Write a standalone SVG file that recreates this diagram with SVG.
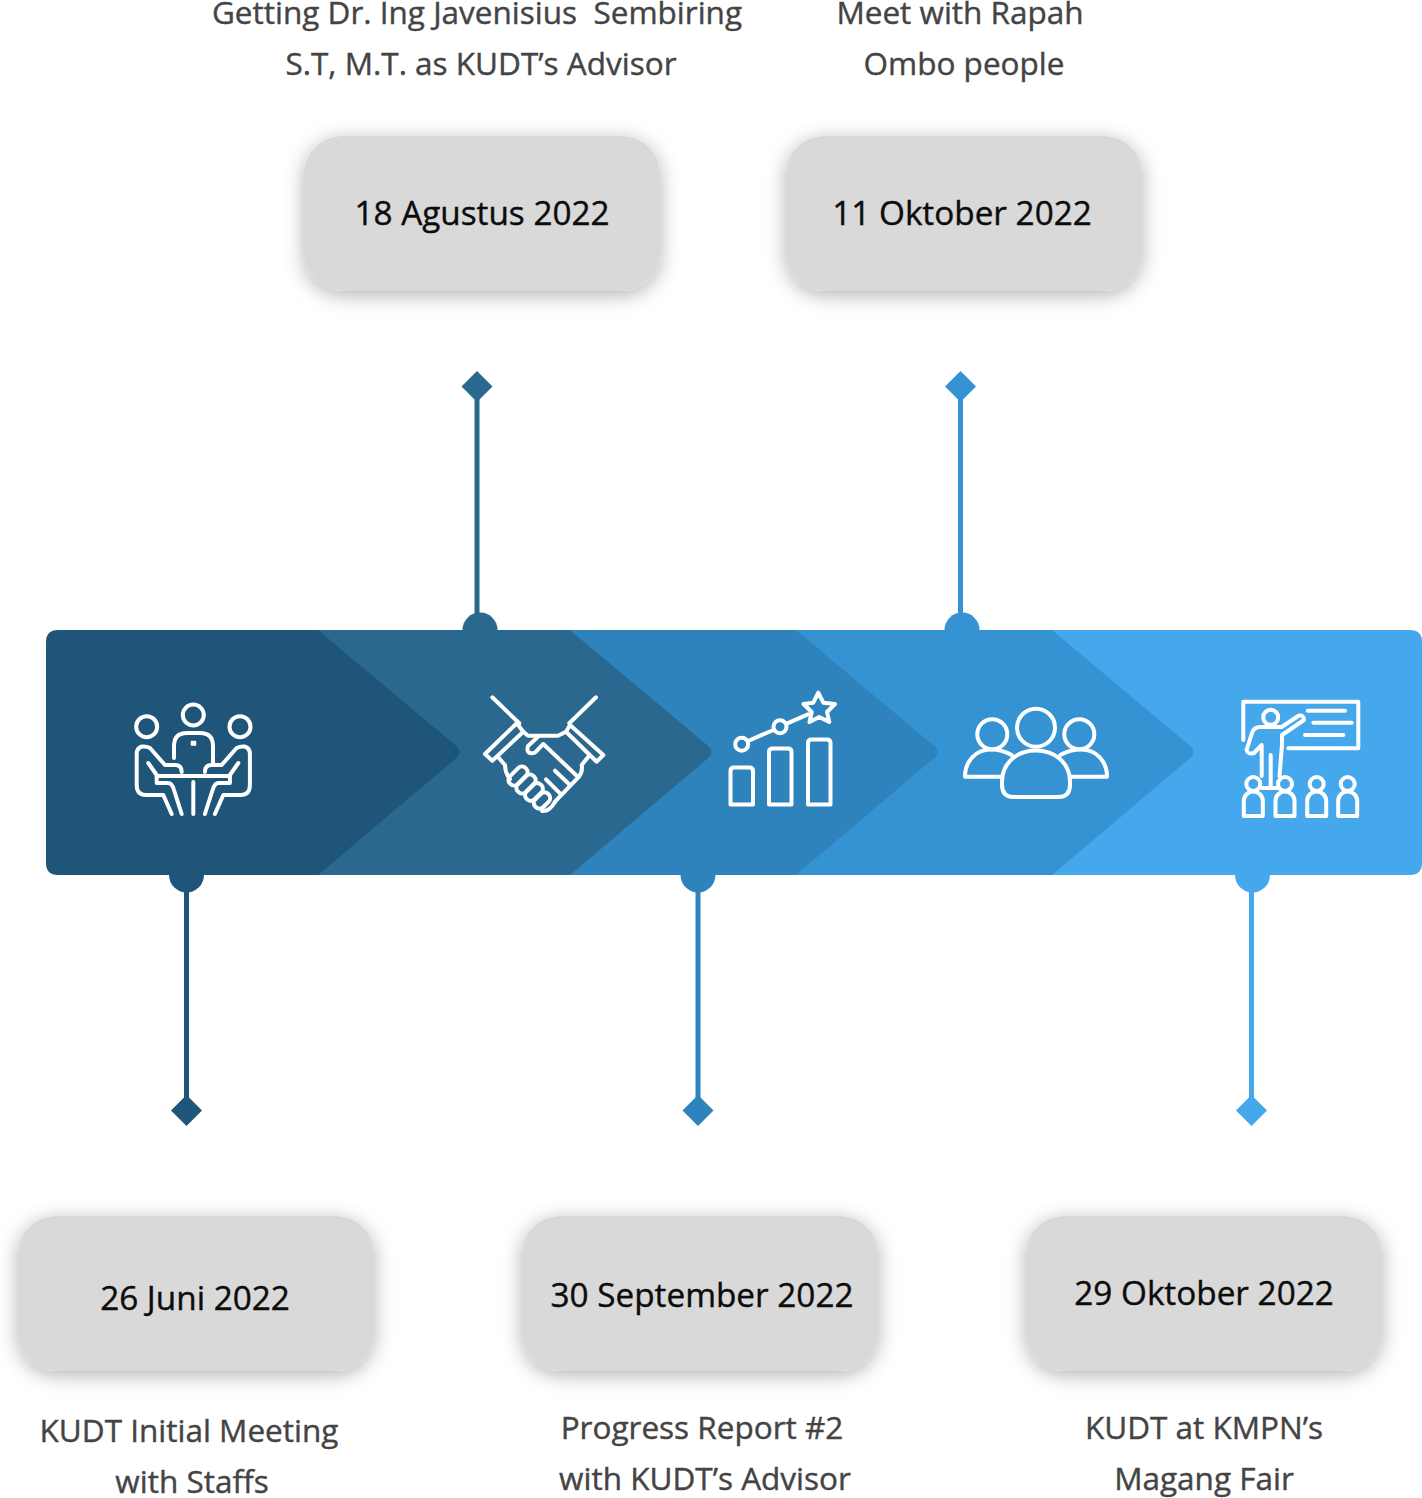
<svg xmlns="http://www.w3.org/2000/svg" xmlns:xlink="http://www.w3.org/1999/xlink" width="1422" height="1498" viewBox="0 0 1422 1498">
<style>
text{font-family:"Open Sans","Noto Sans",sans-serif;text-anchor:middle;white-space:pre}
.date{font-size:33.300px;fill:#0c0c0c;stroke:#0c0c0c;stroke-width:.4px}
.desc{font-size:31.500px;fill:#444;stroke:#444;stroke-width:.4px}
.box{fill:#d9d9d9;filter:url(#sh)}
.ic{fill:none;stroke:#fff;stroke-width:4;stroke-linecap:round;stroke-linejoin:round}
.c1{fill:#1e5579;stroke:#1e5579}.c2{fill:#2a688f;stroke:#2a688f}.c3{fill:#2f83bd;stroke:#2f83bd}.c4{fill:#3693d3;stroke:#3693d3}.c5{fill:#45a8ec;stroke:#45a8ec}
.ln{stroke-width:5;fill:none}
.nb{stroke:none}
</style>
<defs>
<filter id="sh" x="-15%" y="-25%" width="130%" height="155%"><feDropShadow dx="0" dy="4" stdDeviation="10" flood-color="#000" flood-opacity="0.3"/></filter>
<g id="stu"><circle cx="0" cy="784" r="7"/><path d="M-9.500 816V801a9.500 9.500 0 0 1 19 0V816Z"/></g>
<g id="pl"><path d="M181.700 772Q181.700 765 175 765H165L150 748Q146 746 142 746.500Q136.700 748 136.700 754V785Q136.700 795 146 795H163.300L171.700 814"/><path d="M148.300 763L156.700 775V783H168Q172 783 174 790L181.700 814"/></g>
</defs>

<g id="band">
<path class="c5 nb" d="M1040 630H1410Q1422 630 1422 642V863Q1422 875 1410 875H1040Z"/>
<path class="c4 nb" d="M790 630H1052L1189 745Q1198 752 1189 759L1052 875H790Z"/>
<path class="c3 nb" d="M560 630H796L933 745Q942 752 933 759L796 875H560Z"/>
<path class="c2 nb" d="M300 630H570L707 745Q716 752 707 759L570 875H300Z"/>
<path class="c1 nb" d="M58 630H318L455 745Q464 752 455 759L318 875H58Q46 875 46 863V642Q46 630 58 630Z"/>
</g>

<g id="connectors">
<path class="c2 nb" d="M462.500 630a17.500 17.500 0 0 1 35 0Z"/>
<path class="c4 nb" d="M944.500 630a17.500 17.500 0 0 1 35 0Z"/>
<path class="c1 nb" d="M169 875a17.500 17.500 0 0 0 35 0Z"/>
<path class="c3 nb" d="M680.500 875a17.500 17.500 0 0 0 35 0Z"/>
<path class="c5 nb" d="M1235 875a17.500 17.500 0 0 0 35 0Z"/>
<path class="c2 ln" d="M477 386V616"/>
<path class="c4 ln" d="M960.500 386V616"/>
<path class="c1 ln" d="M186.500 890V1110"/>
<path class="c3 ln" d="M698 890V1110"/>
<path class="c5 ln" d="M1251.500 890V1110"/>
<path class="c2 nb" d="M477 371L492.500 386.500L477 402L461.500 386.500Z"/>
<path class="c4 nb" d="M960.500 371L976 386.500L960.500 402L945 386.500Z"/>
<path class="c1 nb" d="M186.500 1095L202 1110.500L186.500 1126L171 1110.500Z"/>
<path class="c3 nb" d="M698 1095L713.500 1110.500L698 1126L682.500 1110.500Z"/>
<path class="c5 nb" d="M1251.500 1095L1267 1110.500L1251.500 1126L1236 1110.500Z"/>
</g>

<g id="icon-meeting" class="ic">
<circle cx="193.300" cy="715" r="10.500"/><circle cx="146.700" cy="726.700" r="10.500"/><circle cx="240" cy="726.700" r="10.500"/>
<path d="M174 758V746Q174 733 187 733H200Q213 733 213 746V765"/>
<path d="M191.500 741.500h4v3.500h-4z" stroke-width="1.500" fill="#fff"/>
<use xlink:href="#pl" href="#pl"/>
<use xlink:href="#pl" href="#pl" transform="translate(386.600 0) scale(-1 1)"/>
<path d="M156.700 776H230M193.300 782V814"/>
</g>

<g id="icon-handshake" class="ic">
<path d="M492.300 697.300L519.300 723.300M596 697.300L569.300 723.300"/>
<path d="M516.700 723.300L485 754L492.300 760.700L523.300 731.700Z"/>
<path d="M570 725L603.300 755L596.700 761.700L566 731.700Z"/>
<path d="M523.300 731.700L528 735.700H558L566 731.700"/>
<path d="M538 736.700L528 746Q526 753 531.700 753.300Q534 753.500 536 751.700L543.300 744L578.300 777.300"/>
<path d="M588.300 756.700L581.700 765Q583 772 578.300 777.300L555 801.700"/>
<path d="M546 779.300L560 793.300M555 770.700L570 785"/>
<path d="M498.300 757.300L505 765Q505 773 510 779"/>
<g transform="translate(518 776) rotate(-45)"><rect x="-11" y="-5.500" width="22" height="11" rx="5"/></g>
<g transform="translate(526 784) rotate(-45)"><rect x="-11" y="-5.500" width="22" height="11" rx="5"/></g>
<g transform="translate(534 792) rotate(-45)"><rect x="-10" y="-5.500" width="20" height="11" rx="5"/></g>
<g transform="translate(542 800.500) rotate(-45)"><rect x="-9" y="-5.500" width="18" height="11" rx="5"/></g>
<path d="M555 802Q549 812 542 811"/>
</g>

<g id="icon-chart" class="ic">
<path d="M730.500 804.500V771Q730.500 767.500 734 767.500H749.500Q753 767.500 753 771V804.500Z"/>
<path d="M769 804.500V752Q769 748.500 772.500 748.500H788Q791.500 748.500 791.500 752V804.500Z"/>
<path d="M808 804.500V743Q808 739.500 811.500 739.500H827Q830.500 739.500 830.500 743V804.500Z"/>
<circle cx="741.700" cy="744.300" r="6.500"/><circle cx="780" cy="726.700" r="6.500"/>
<path d="M748 741L773.300 730M787.300 723.300L808 714.300"/>
<path d="M818.300 692.700L823.300 702.700L835 704L827 712L829.300 722L819.300 717L809.500 722L811.700 712L803.500 704L813.300 702.700Z"/>
</g>

<g id="icon-team" class="ic">
<circle cx="1036" cy="727.700" r="19"/><circle cx="992.300" cy="734.300" r="15"/><circle cx="1079.300" cy="734.300" r="15"/>
<path d="M1002 782C1002 762 1018 750.500 1036 750.500C1054 750.500 1070 762 1070 782V785Q1070 797 1058 797H1014Q1002 797 1002 785Z"/>
<path d="M1011.700 755Q1002 749.500 991 749.500C975 749.500 965 762 965 776.700H1001"/>
<path d="M1060.300 755Q1070 749.500 1081 749.500C1097 749.500 1107 762 1107 776.700H1071"/>
</g>

<g id="icon-training" class="ic">
<path d="M1243.300 740V701.700H1358.300V748.300H1288.300"/>
<path d="M1307.700 710.700H1345M1313.300 722.700H1351.700M1305 735H1343.300"/>
<circle cx="1270.700" cy="717.300" r="7.500"/>
<path d="M1261.700 776V745L1254 753Q1248 755 1246.500 750L1252 733Q1254 727 1260 727H1281.700L1299 715.500Q1304 715 1304 720L1282 735V745L1279.500 776"/>
<path d="M1270.700 755V788"/><path d="M1262 788H1278"/>
<use xlink:href="#stu" href="#stu" x="1253.300"/><use xlink:href="#stu" href="#stu" x="1285"/><use xlink:href="#stu" href="#stu" x="1316.700"/><use xlink:href="#stu" href="#stu" x="1347.700"/>
</g>

<g id="node-jun"><rect class="box" x="18" y="1216" width="356" height="155" rx="38"/><text class="date" x="195" y="1310">26 Juni 2022</text><text class="desc" x="189" y="1442">KUDT Initial Meeting</text><text class="desc" x="192" y="1493">with Staffs</text></g>
<g id="node-agu"><rect class="box" x="304" y="136" width="356" height="155" rx="38"/><text class="date" x="482" y="225">18 Agustus 2022</text><text class="desc" x="477" y="24">Getting Dr. Ing Javenisius  Sembiring</text><text class="desc" x="481" y="75">S.T, M.T. as KUDT’s Advisor</text></g>
<g id="node-sep"><rect class="box" x="522" y="1216" width="356" height="155" rx="38"/><text class="date" x="702" y="1307">30 September 2022</text><text class="desc" x="702" y="1439">Progress Report #2</text><text class="desc" x="705" y="1490">with KUDT’s Advisor</text></g>
<g id="node-okt11"><rect class="box" x="786" y="136" width="356" height="155" rx="38"/><text class="date" x="962" y="225">11 Oktober 2022</text><text class="desc" x="960" y="24">Meet with Rapah</text><text class="desc" x="964" y="75">Ombo people</text></g>
<g id="node-okt29"><rect class="box" x="1026" y="1216" width="356" height="155" rx="38"/><text class="date" x="1204" y="1305">29 Oktober 2022</text><text class="desc" x="1204" y="1439">KUDT at KMPN’s</text><text class="desc" x="1204" y="1490">Magang Fair</text></g>
</svg>
